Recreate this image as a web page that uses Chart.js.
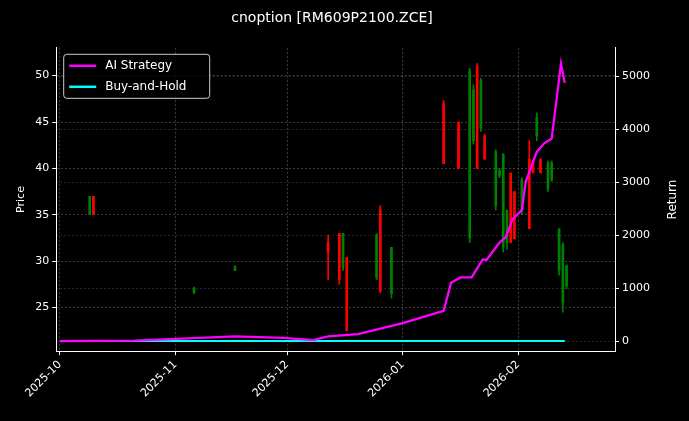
<!DOCTYPE html>
<html><head><meta charset="utf-8">
<script src="https://cdn.jsdelivr.net/npm/chart.js@4/dist/chart.umd.min.js"></script>
<style>html,body{margin:0;background:#000;}#w{width:689px;height:421px;}</style>
</head><body><div id="w"><canvas id="c"></canvas></div>
<script>
// days since 2025-10-01
const candleDays = [8,9,36,47,72,75,76,77,85,86,89,103,107,110,111,112,113,114,117,118,119,120,121,122,124,126,127,128,129,131,132,134,135,136];
const candleOpen = [35,37,26.6,29,32,33,29.3,30.4,28.2,35.5,26.5,47,45,32.5,43,51,44.3,43.5,36,39.2,31.5,32,39.5,37.5,35.5,41,40.8,43.5,41,37.8,38.8,29,25.5,27.3];
const candleClose = [37,35,27.1,29.4,31,28,33,22.5,32.8,26.8,31.5,40.5,40,50.5,48.5,40,49.5,41,41.8,39.8,41.5,35.5,32,32.4,38.8,33.5,39.5,45.5,39.5,40.6,40.6,33.5,31.8,29.5];
const candleHigh = [37,37,27.2,29.5,32.8,33,33,30.4,33,36,31.5,47.3,45,50.8,49,51.3,49.7,43.7,42,40,41.6,35.5,39.5,37.5,39,43,40.8,46,41,40.8,40.8,33.5,32,29.6];
const candleLow = [35,35,26.5,29,28,27.5,29,23.2,28,26.6,26,40.5,40,32,42.6,40,44,41,35.5,39,31,31.3,32,32.4,35,33.5,39.5,43,39.5,37.5,38.6,28.5,24.5,27];
const stratDays = [0,20,47,60,68,72,80,92,103,105,107.5,110.5,113.5,114.5,118,119.7,121.5,124,125,128,130,132,134.5,135.5];
const stratRet = [0,10,90,60,20,90,130,340,570,1100,1200,1200,1540,1530,1860,1960,2300,2470,3000,3570,3730,3820,5230,4870];
const bhDays = [0,135.5];
const bhRet = [0,0];
const tickDays = [0,31,61,92,123];
const tickLabels = ['2025-10','2025-11','2025-12','2026-01','2026-02'];
const priceTicks = [25,30,35,40,45,50];
const returnTicks = [0,1000,2000,3000,4000,5000];

const GREEN='#008000', RED='#ff0000';
const cols = candleOpen.map((o,i)=> candleClose[i]>=o?GREEN:RED);
const wick = candleDays.map((d,i)=>({x:d,y:[candleLow[i],candleHigh[i]]}));
const body = candleDays.map((d,i)=>({x:d,y:[candleOpen[i],candleClose[i]]}));
const strat = stratDays.map((d,i)=>({x:d,y:stratRet[i]}));
const bh = bhDays.map((d,i)=>({x:d,y:bhRet[i]}));

const extra={id:'ex',afterDraw(ch){const a=ch.chartArea,c=ch.ctx;c.save();
 const x=a.left+7,y=a.top+6,w=146,h=44;
 c.fillStyle='rgba(0,0,0,0.8)';c.strokeStyle='#cccccc';c.lineWidth=1;
 c.beginPath();c.roundRect(x+.5,y+.5,w,h,3);c.fill();c.stroke();
 const items=[['AI Strategy','#ff00ff'],['Buy-and-Hold','#00ffff']];
 c.font='12px "DejaVu Sans"';c.textBaseline='middle';
 items.forEach((it,i)=>{const yy=y+12+i*21;c.strokeStyle=it[1];c.lineWidth=2.5;c.beginPath();c.moveTo(x+6,yy);c.lineTo(x+33,yy);c.stroke();c.fillStyle='#fff';c.fillText(it[0],x+42,yy);});
 c.translate(673,(a.top+a.bottom)/2);c.rotate(-Math.PI/2);c.textAlign='center';c.fillText('Return',0,0);
 c.restore();}};

const gridC='rgba(110,110,110,0.55)';
new Chart(document.getElementById('c'),{
 data:{datasets:[
  {type:'bar',data:wick,backgroundColor:cols,barThickness:1,yAxisID:'y',grouped:false,order:3},
  {type:'bar',data:body,backgroundColor:cols,barThickness:2,yAxisID:'y',grouped:false,order:2},
  {type:'line',data:bh,borderColor:'#00ffff',borderWidth:2,pointRadius:0,yAxisID:'y2',order:1},
  {type:'line',data:strat,borderColor:'#ff00ff',borderWidth:2.3,pointRadius:0,yAxisID:'y2',order:0}
 ]},
 options:{responsive:true,maintainAspectRatio:false,animation:false,
  layout:{padding:{left:11,right:36,top:6,bottom:18}},
  plugins:{legend:{display:false},tooltip:{enabled:false},
   title:{display:true,text:'cnoption [RM609P2100.ZCE]',color:'#fff',font:{family:'DejaVu Sans',size:14,weight:'normal'},padding:{top:4,bottom:21}}},
  scales:{
   x:{type:'linear',min:-1,max:149,offset:false,
    afterBuildTicks:s=>{s.ticks=tickDays.map(v=>({value:v}));},
    ticks:{color:'#fff',maxRotation:45,minRotation:45,font:{family:'DejaVu Sans',size:11},callback:v=>tickLabels[tickDays.indexOf(v)]},
    grid:{offset:false,color:gridC,tickColor:'#fff',tickLength:4},border:{color:'#fff',dash:[2,2]}},
   y:{position:'left',min:20.3,max:53,
    afterBuildTicks:s=>{s.ticks=priceTicks.map(v=>({value:v}));},
    ticks:{color:'#fff',font:{family:'DejaVu Sans',size:11}},
    title:{display:true,text:'Price',color:'#fff',font:{family:'DejaVu Sans',size:11}},
    grid:{color:gridC,tickColor:'#fff',tickLength:4},border:{color:'#fff',dash:[2,2]}},
   y2:{position:'right',min:-190,max:5532,
    afterBuildTicks:s=>{s.ticks=returnTicks.map(v=>({value:v}));},
    ticks:{color:'#fff',font:{family:'DejaVu Sans',size:11},callback:v=>String(v)},
    grid:{color:'rgba(90,90,90,0.45)',tickColor:'#fff',tickLength:4},border:{color:'#fff',dash:[2,2]}}
  }},
 plugins:[extra]
});
</script></body></html>
